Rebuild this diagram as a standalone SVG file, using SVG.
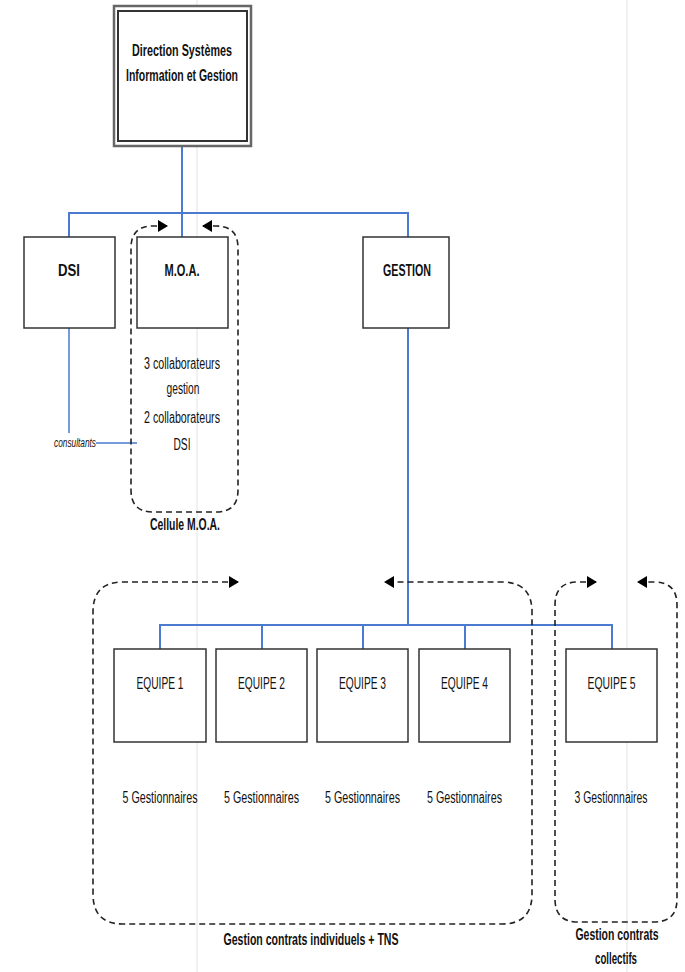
<svg xmlns="http://www.w3.org/2000/svg" width="685" height="972" viewBox="0 0 685 972">
<defs>
<marker id="ah" viewBox="0 0 10 12" refX="9" refY="6" markerWidth="10" markerHeight="12" markerUnits="userSpaceOnUse" orient="auto-start-reverse">
<path d="M0,0 L10,6 L0,12 Z" fill="#000"/>
</marker>
<style>
.box{fill:#fff;stroke:#333;stroke-width:1.5}
.conn{fill:none;stroke:#4a7bd0;stroke-width:2}
.thin{fill:none;stroke:#4a7bd0;stroke-width:1.5}
.grp{fill:none;stroke:#222;stroke-width:1.6;stroke-dasharray:6,4;marker-start:url(#ah);marker-end:url(#ah)}
text{font-family:"Liberation Sans",Arial,sans-serif;font-size:16px;fill:#111;text-anchor:middle}
.b{font-weight:bold}
.it{font-style:italic;font-size:12px}
.page{stroke:#e2e2e2;stroke-width:1}
</style>
</defs>
<rect width="685" height="972" fill="#fff"/>
<line class="page" x1="197" y1="0" x2="197" y2="972"/>
<line class="page" x1="627" y1="0" x2="627" y2="972"/>

<g id="connectors">
<path class="conn" d="M182,146 V213 M69,237 V213 H408 V237 M182,213 V237"/>
<path class="conn" d="M408,328 V625 M160,649 V625 H612 V649 M262,625 V649 M363,625 V649 M465,625 V649"/>
<path class="thin" d="M69,328 V433 M96,443 H137"/>
</g>

<g id="groups">
<path class="grp" d="M167,226 H153 Q131,226 131,248 V490 Q131,512 153,512 H216 Q238,512 238,490 V248 Q238,226 216,226 H203"/>
<path class="grp" d="M238,582 H123 Q93,582 93,612 V894 Q93,924 123,924 H502 Q532,924 532,894 V612 Q532,582 502,582 H385"/>
<path class="grp" d="M596,582 H578 Q555,582 555,605 V899 Q555,922 578,922 H654 Q677,922 677,899 V605 Q677,582 654,582 H638"/>
</g>

<g id="n-direction">
<rect x="114" y="6" width="137" height="140" fill="#fff" stroke="#666" stroke-width="2.5"/>
<rect x="118" y="11" width="129" height="130" fill="none" stroke="#333" stroke-width="2"/>
<text class="b" x="182" y="56" textLength="100" lengthAdjust="spacingAndGlyphs">Direction Systèmes</text>
<text class="b" x="182" y="81" textLength="112" lengthAdjust="spacingAndGlyphs">Information et Gestion</text>
</g>

<g id="n-dsi">
<rect class="box" x="24" y="237" width="91" height="91"/>
<text class="b" x="69" y="276" textLength="22" lengthAdjust="spacingAndGlyphs">DSI</text>
</g>
<text class="it" x="75" y="447" textLength="42" lengthAdjust="spacingAndGlyphs">consultants</text>

<g id="n-moa">
<rect class="box" x="137" y="237" width="91" height="91"/>
<text class="b" x="182" y="276" textLength="35" lengthAdjust="spacingAndGlyphs">M.O.A.</text>
<text x="182" y="369" textLength="76" lengthAdjust="spacingAndGlyphs">3 collaborateurs</text>
<text x="183" y="394" textLength="33" lengthAdjust="spacingAndGlyphs">gestion</text>
<text x="182" y="423" textLength="76" lengthAdjust="spacingAndGlyphs">2 collaborateurs</text>
<text x="182" y="450" textLength="17" lengthAdjust="spacingAndGlyphs">DSI</text>
<text class="b" x="185" y="530" textLength="70" lengthAdjust="spacingAndGlyphs">Cellule M.O.A.</text>
</g>

<g id="n-gestion">
<rect class="box" x="363" y="237" width="86" height="91"/>
<text class="b" x="407" y="276" textLength="48" lengthAdjust="spacingAndGlyphs">GESTION</text>
</g>

<g id="n-equipe1">
<rect class="box" x="114" y="649" width="92" height="93"/>
<text x="160" y="689" textLength="47" lengthAdjust="spacingAndGlyphs">EQUIPE 1</text>
<text x="160" y="803" textLength="75" lengthAdjust="spacingAndGlyphs">5 Gestionnaires</text>
</g>
<g id="n-equipe2">
<rect class="box" x="216" y="649" width="91" height="93"/>
<text x="261.5" y="689" textLength="47" lengthAdjust="spacingAndGlyphs">EQUIPE 2</text>
<text x="261.5" y="803" textLength="75" lengthAdjust="spacingAndGlyphs">5 Gestionnaires</text>
</g>
<g id="n-equipe3">
<rect class="box" x="317" y="649" width="91" height="93"/>
<text x="362.5" y="689" textLength="47" lengthAdjust="spacingAndGlyphs">EQUIPE 3</text>
<text x="362.5" y="803" textLength="75" lengthAdjust="spacingAndGlyphs">5 Gestionnaires</text>
</g>
<g id="n-equipe4">
<rect class="box" x="419" y="649" width="91" height="93"/>
<text x="464.5" y="689" textLength="47" lengthAdjust="spacingAndGlyphs">EQUIPE 4</text>
<text x="464.5" y="803" textLength="75" lengthAdjust="spacingAndGlyphs">5 Gestionnaires</text>
</g>
<g id="n-equipe5">
<rect class="box" x="566" y="649" width="91" height="93"/>
<text x="611.5" y="689" textLength="48" lengthAdjust="spacingAndGlyphs">EQUIPE 5</text>
<text x="611" y="803" textLength="73" lengthAdjust="spacingAndGlyphs">3 Gestionnaires</text>
</g>

<g id="labels">
<text class="b" x="311" y="945" textLength="175" lengthAdjust="spacingAndGlyphs">Gestion contrats individuels + TNS</text>
<text class="b" x="617" y="940" textLength="83" lengthAdjust="spacingAndGlyphs">Gestion contrats</text>
<text class="b" x="616" y="964" textLength="42" lengthAdjust="spacingAndGlyphs">collectifs</text>
</g>
</svg>
